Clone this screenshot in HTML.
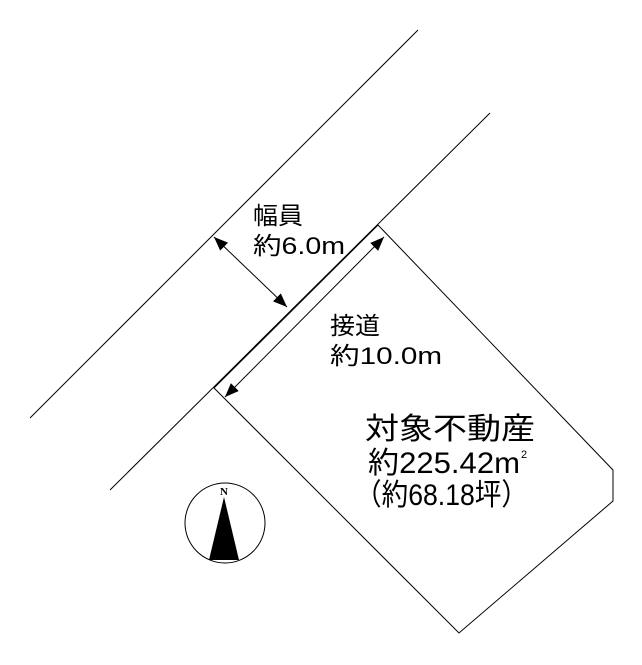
<!DOCTYPE html>
<html><head><meta charset="utf-8"><style>
body{margin:0;background:#fff;width:642px;height:665px;overflow:hidden}
svg{display:block}
text{font-family:"Liberation Sans","Noto Sans CJK JP",sans-serif;fill:#000}
</style></head><body>
<svg width="642" height="665" viewBox="0 0 642 665">
<defs><marker id="a" viewBox="0 0 10 10" refX="10" refY="5" markerWidth="14" markerHeight="14" markerUnits="userSpaceOnUse" orient="auto-start-reverse"><path d="M0,1 L10,5 L0,9 Z" fill="#000"/></marker></defs>
<g stroke="#000" stroke-width="1" fill="none">
<line x1="418" y1="30" x2="30" y2="418"/>
<line x1="490" y1="113" x2="110" y2="490"/>
<polygon points="378,225 613,470 613,501 459,633 214,388"/>
<line x1="214" y1="237" x2="287" y2="307" marker-start="url(#a)" marker-end="url(#a)"/>
<line x1="384" y1="237" x2="225" y2="397" marker-start="url(#a)" marker-end="url(#a)"/>
<circle cx="225" cy="523" r="40"/>
</g>
<polygon points="224,497 209,560 239,560" fill="#000"/>
<text x="224" y="495" font-size="11" font-weight="bold" text-anchor="middle" style="font-family:'Liberation Serif',serif">N</text>
<text x="253" y="224" font-size="24" textLength="50" lengthAdjust="spacingAndGlyphs">幅員</text>
<text x="253" y="254" font-size="24" textLength="92" lengthAdjust="spacingAndGlyphs">約6.0m</text>
<text x="330" y="334" font-size="24" textLength="50" lengthAdjust="spacingAndGlyphs">接道</text>
<text x="330" y="364" font-size="24" textLength="112" lengthAdjust="spacingAndGlyphs">約10.0m</text>
<text x="365" y="439" font-size="30" textLength="170" lengthAdjust="spacingAndGlyphs">対象不動産</text>
<text x="368" y="473" font-size="30" textLength="152" lengthAdjust="spacingAndGlyphs">約225.42m</text>
<text x="521" y="458" font-size="11">2</text>
<text x="355" y="505" font-size="30" textLength="173" lengthAdjust="spacingAndGlyphs">（約68.18坪）</text>
</svg>
</body></html>
